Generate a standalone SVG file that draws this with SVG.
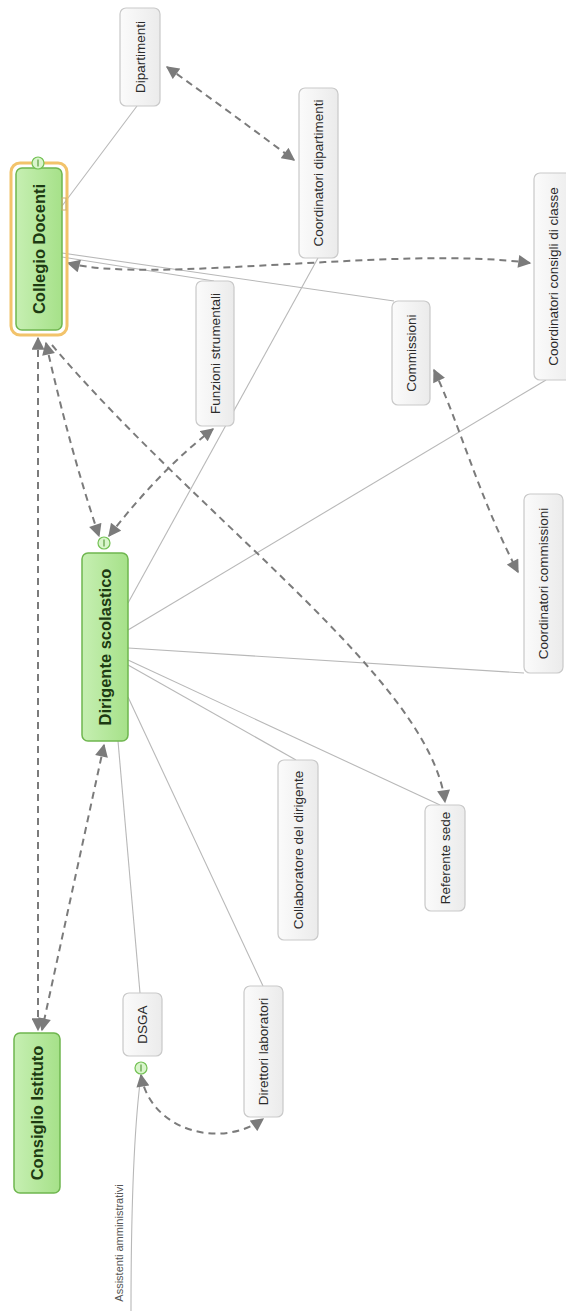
<svg xmlns="http://www.w3.org/2000/svg" width="566" height="1311" viewBox="0 0 566 1311">
<style>
.bg{fill:#ffffff}
.green{fill:url(#gg);stroke:#6fb64f;stroke-width:1.5}
.gray{fill:url(#gr);stroke:#c9c9c9;stroke-width:1.2}
.tb{font-family:"Liberation Sans",Arial,sans-serif;font-weight:bold;font-size:16.5px;fill:#1d3a12}
.tn{font-family:"Liberation Sans",Arial,sans-serif;font-size:13.5px;fill:#2a2a2a}
.ta{font-family:"Liberation Sans",Arial,sans-serif;font-size:11px;fill:#555555}
.sl{fill:none;stroke:#b8b8b8;stroke-width:1.1}
.dl{fill:none;stroke:#7b7b7b;stroke-width:2;stroke-dasharray:7 5;marker-start:url(#ah);marker-end:url(#ah)}
.dle{fill:none;stroke:#7b7b7b;stroke-width:2;stroke-dasharray:7 5;marker-end:url(#ah)}
.ind{fill:#d9f5cc;stroke:#73c154;stroke-width:1.2}
</style>
<defs>
<linearGradient id="gg" x1="0" y1="0" x2="1" y2="0">
<stop offset="0" stop-color="#c6efb2"/>
<stop offset="1" stop-color="#a6e189"/>
</linearGradient>
<linearGradient id="gr" x1="0" y1="0" x2="1" y2="0">
<stop offset="0" stop-color="#fbfbfb"/>
<stop offset="1" stop-color="#ebebeb"/>
</linearGradient>
<marker id="ah" viewBox="0 0 10 10" refX="9" refY="5" markerWidth="14" markerHeight="13" markerUnits="userSpaceOnUse" orient="auto-start-reverse">
<path d="M0,0 L10,5 L0,10 z" fill="#7b7b7b"/>
</marker>
</defs>
<rect class="bg" x="0" y="0" width="566" height="1311"/>

<g id="connectors">
<line class="sl" x1="62" y1="206" x2="137" y2="106"/>
<line class="sl" x1="62" y1="253" x2="394" y2="301"/>
<line class="sl" x1="62" y1="257" x2="214" y2="281"/>
<line class="sl" x1="128" y1="603" x2="318" y2="258"/>
<line class="sl" x1="128" y1="630" x2="546" y2="380"/>
<line class="sl" x1="128" y1="648" x2="524" y2="673"/>
<line class="sl" x1="128" y1="660" x2="440" y2="805"/>
<line class="sl" x1="128" y1="665" x2="296" y2="760"/>
<line class="sl" x1="128" y1="697" x2="263" y2="986"/>
<line class="sl" x1="118" y1="741" x2="140" y2="993"/>
<path class="sl" d="M141,1075 Q131,1150 131,1311"/>
<path class="dl" d="M167,67 Q230,112 294,160"/>
<path class="dl" d="M68,263 C150,285 400,245 530,263"/>
<path class="dl" d="M434,370 C458,420 480,500 518,572"/>
<path class="dl" d="M38,338 L38,1030"/>
<path class="dl" d="M104,745 L42,1030"/>
<path class="dl" d="M46,343 Q70,450 99,536"/>
<path class="dl" d="M109,536 Q160,470 213,429"/>
<path class="dle" d="M52,345 C200,520 430,680 445,802"/>
<path class="dl" d="M141,1075 C150,1130 220,1150 263,1119"/>
</g>

<g id="collegio-docenti">
<rect x="11" y="163" width="56" height="172" rx="9" fill="none" stroke="#f2c36b" stroke-width="3"/>
<rect class="green" x="16" y="168" width="46" height="162" rx="6"/>
<rect x="62" y="198" width="4" height="12" fill="none" stroke="#c8b070" stroke-width="1"/>
<circle class="ind" cx="38" cy="163" r="6"/>
<line x1="38" y1="159.5" x2="38" y2="166.5" stroke="#5a9c3e" stroke-width="1.2"/>
<text class="tb" x="39" y="249" text-anchor="middle" dominant-baseline="central" transform="rotate(-90 39 249)">Collegio Docenti</text>
</g>

<g id="dirigente-scolastico">
<rect class="green" x="82" y="553" width="46" height="188" rx="6"/>
<circle class="ind" cx="104" cy="543" r="6"/>
<line x1="104" y1="539.5" x2="104" y2="546.5" stroke="#5a9c3e" stroke-width="1.2"/>
<text class="tb" x="105" y="647" text-anchor="middle" dominant-baseline="central" transform="rotate(-90 105 647)">Dirigente scolastico</text>
</g>

<g id="consiglio-istituto">
<rect class="green" x="14" y="1033" width="46" height="160" rx="6"/>
<text class="tb" x="37" y="1113" text-anchor="middle" dominant-baseline="central" transform="rotate(-90 37 1113)">Consiglio Istituto</text>
</g>

<g id="dipartimenti">
<rect class="gray" x="120" y="8" width="40" height="98" rx="6"/>
<text class="tn" x="140" y="57" text-anchor="middle" dominant-baseline="central" transform="rotate(-90 140 57)">Dipartimenti</text>
</g>

<g id="coordinatori-dipartimenti">
<rect class="gray" x="299" y="88" width="39" height="170" rx="6"/>
<text class="tn" x="318.5" y="173" text-anchor="middle" dominant-baseline="central" transform="rotate(-90 318.5 173)">Coordinatori dipartimenti</text>
</g>

<g id="funzioni-strumentali">
<rect class="gray" x="196" y="281" width="38" height="145" rx="6"/>
<text class="tn" x="215" y="353.5" text-anchor="middle" dominant-baseline="central" transform="rotate(-90 215 353.5)">Funzioni strumentali</text>
</g>

<g id="commissioni">
<rect class="gray" x="392" y="301" width="38" height="104" rx="6"/>
<text class="tn" x="411" y="353" text-anchor="middle" dominant-baseline="central" transform="rotate(-90 411 353)">Commissioni</text>
</g>

<g id="coordinatori-consigli-di-classe">
<rect class="gray" x="534" y="173" width="42" height="207" rx="6"/>
<text class="tn" x="553" y="276.5" text-anchor="middle" dominant-baseline="central" transform="rotate(-90 553 276.5)">Coordinatori consigli di classe</text>
</g>

<g id="coordinatori-commissioni">
<rect class="gray" x="524" y="494" width="39" height="179" rx="6"/>
<text class="tn" x="543.5" y="583.5" text-anchor="middle" dominant-baseline="central" transform="rotate(-90 543.5 583.5)">Coordinatori commissioni</text>
</g>

<g id="collaboratore-del-dirigente">
<rect class="gray" x="278" y="760" width="40" height="180" rx="6"/>
<text class="tn" x="298" y="850" text-anchor="middle" dominant-baseline="central" transform="rotate(-90 298 850)">Collaboratore del dirigente</text>
</g>

<g id="referente-sede">
<rect class="gray" x="425" y="805" width="40" height="106" rx="6"/>
<text class="tn" x="445" y="858" text-anchor="middle" dominant-baseline="central" transform="rotate(-90 445 858)">Referente sede</text>
</g>

<g id="dsga">
<rect class="gray" x="123" y="993" width="39" height="63" rx="6"/>
<circle class="ind" cx="141" cy="1068" r="6"/>
<line x1="141" y1="1064.5" x2="141" y2="1071.5" stroke="#5a9c3e" stroke-width="1.2"/>
<text class="tn" x="142.5" y="1024.5" text-anchor="middle" dominant-baseline="central" transform="rotate(-90 142.5 1024.5)">DSGA</text>
</g>

<g id="direttori-laboratori">
<rect class="gray" x="244" y="986" width="39" height="131" rx="6"/>
<text class="tn" x="263.5" y="1051.5" text-anchor="middle" dominant-baseline="central" transform="rotate(-90 263.5 1051.5)">Direttori laboratori</text>
</g>

<g id="assistenti-amministrativi">
<text class="ta" x="119" y="1243" text-anchor="middle" dominant-baseline="central" transform="rotate(-90 119 1243)">Assistenti amministrativi</text>
</g>
</svg>
